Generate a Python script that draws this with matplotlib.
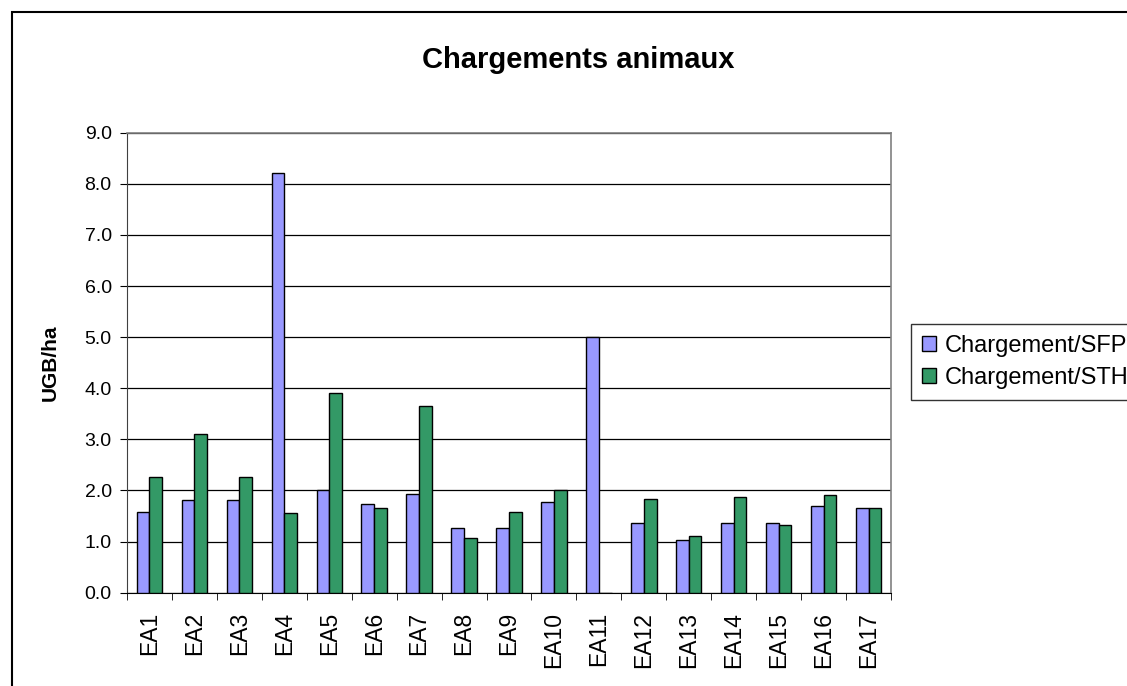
import matplotlib
matplotlib.use("Agg")
import matplotlib.pyplot as plt
import numpy as np

plt.rcParams['font.family'] = ['Liberation Sans', 'DejaVu Sans']

# Exploitations et chargements (UGB/ha)
exploitations = ["EA1", "EA2", "EA3", "EA4", "EA5", "EA6", "EA7", "EA8", "EA9",
                 "EA10", "EA11", "EA12", "EA13", "EA14", "EA15", "EA16", "EA17"]
charg_sfp = [1.58, 1.81, 1.81, 8.21, 2.00, 1.73, 1.94, 1.27, 1.27,
             1.77, 5.00, 1.36, 1.04, 1.36, 1.36, 1.70, 1.66]
charg_sth = [2.27, 3.11, 2.27, 1.55, 3.91, 1.66, 3.66, 1.08, 1.58,
             2.00, 0.0, 1.84, 1.11, 1.88, 1.33, 1.91, 1.66]
yticks = np.arange(0, 9.01, 1.0)

fig = plt.figure(figsize=(11.27, 6.86), dpi=100)
ax = fig.add_axes([127 / 1127, 1 - 592.7 / 686, (891 - 127) / 1127, 460 / 686])

x = np.arange(len(exploitations))
w = 0.283
ax.bar(x - w / 2, charg_sfp, w, color="#9999FF", edgecolor="black", linewidth=1.0,
       label="Chargement/SFP", zorder=3)
ax.bar(x + w / 2, charg_sth, w, color="#339966", edgecolor="black", linewidth=1.0,
       label="Chargement/STH", zorder=3)

ax.set_xlim(-0.5, len(exploitations) - 0.5)
ax.set_ylim(0, 9)
ax.set_yticks(yticks, [f"{v:.1f}" for v in yticks], fontsize=14)
ax.set_xticks(x, exploitations, rotation=90, fontsize=16.5)
ax.set_xticks(np.arange(-0.5, len(exploitations)), minor=True)
ax.tick_params(axis="x", which="major", length=0, pad=14)
ax.tick_params(axis="x", which="minor", length=5, direction="out", color="black")
ax.tick_params(axis="y", length=5, direction="out", color="black", pad=6)

ax.yaxis.grid(True, color="black", linewidth=0.9, zorder=0)
for s in ["top", "right"]:
    ax.spines[s].set_color("#808080")
    ax.spines[s].set_linewidth(1.2)
ax.spines["left"].set_color("#404040")
ax.spines["bottom"].set_color("black")

ax.set_ylabel("UGB/ha", fontsize=15, fontweight="bold")
ax.yaxis.set_label_coords(-0.088, 0.5)
fig.text(0.513, 1 - 68 / 686, "Chargements animaux", ha="center", va="baseline",
         fontsize=21, fontweight="bold")

leg = fig.legend(loc="upper left", bbox_to_anchor=(911 / 1127, 1 - 324 / 686),
                 fontsize=17, frameon=True, fancybox=False, handlelength=0.6,
                 handleheight=0.6, handletextpad=0.4, borderpad=0.45,
                 labelspacing=0.45, borderaxespad=0)
leg.get_frame().set_edgecolor("black")
leg.get_frame().set_linewidth(1.0)

# cadre du graphique
fig.patches.append(plt.Rectangle((12 / 1127, -0.1), 1.2, 1 - 12 / 686 + 0.1,
                                 transform=fig.transFigure, fill=False,
                                 edgecolor="black", linewidth=1.5))

fig.savefig("out.png", dpi=100)
